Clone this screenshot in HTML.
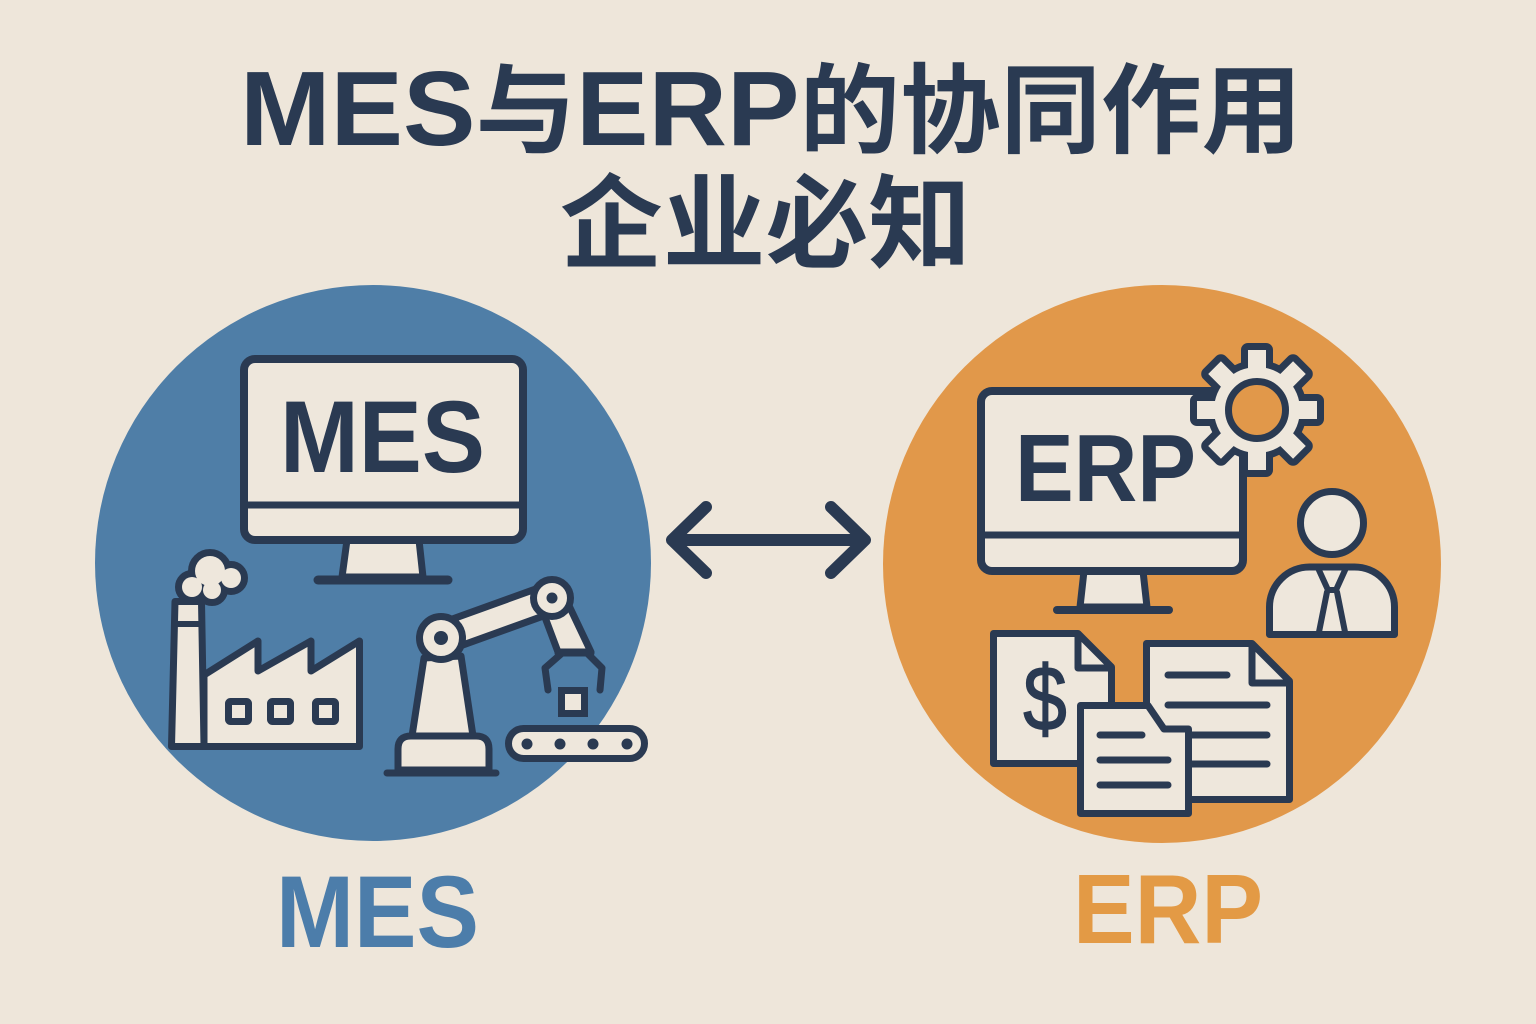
<!DOCTYPE html>
<html>
<head>
<meta charset="utf-8">
<style>
html,body{margin:0;padding:0;background:#EEE6DA;}
svg{display:block;}
</style>
</head>
<body>
<svg width="1536" height="1024" viewBox="0 0 1536 1024" xmlns="http://www.w3.org/2000/svg">
<rect x="0" y="0" width="1536" height="1024" fill="#EEE6DA"/>

<!-- Title -->
<text x="240" y="145" textLength="1062" lengthAdjust="spacingAndGlyphs" fill="#2A3A52" font-family="'Liberation Sans','Noto Sans CJK SC',sans-serif" font-weight="bold" font-size="98"><tspan font-size="106">MES</tspan>与<tspan font-size="106">ERP</tspan>的协同作用</text>
<text x="560" y="260" textLength="411" lengthAdjust="spacingAndGlyphs" fill="#2A3A52" font-family="'Liberation Sans','Noto Sans CJK SC',sans-serif" font-weight="bold" font-size="102">企业必知</text>

<!-- Circles -->
<circle cx="373" cy="563" r="278" fill="#4F7EA7"/>
<circle cx="1162" cy="564" r="279" fill="#E1984A"/>

<g stroke="#2A3A52" stroke-linecap="round" stroke-linejoin="round">

<!-- ===== MES monitor ===== -->
<polygon points="347,540 419,540 423,577 342,577" fill="#EEE7DC" stroke-width="7"/>
<line x1="318" y1="580" x2="448" y2="580" stroke-width="9"/>
<rect x="244" y="359" width="279" height="181" rx="11" fill="#EEE7DC" stroke-width="8"/>
<line x1="244" y1="505" x2="523" y2="505" stroke-width="7"/>
</g>
<text x="280" y="472" textLength="205" lengthAdjust="spacingAndGlyphs" fill="#2A3A52" font-family="'Liberation Sans',sans-serif" font-weight="bold" font-size="102">MES</text>

<g stroke="#2A3A52" stroke-linecap="round" stroke-linejoin="round">
<!-- ===== Factory ===== -->
<g fill="#2A3A52" stroke-width="14">
  <circle cx="210" cy="571" r="15"/>
  <circle cx="231" cy="578" r="10"/>
  <circle cx="192" cy="587" r="10"/>
  <circle cx="212" cy="590" r="9"/>
</g>
<g fill="#EEE7DC" stroke="none">
  <circle cx="210" cy="571" r="15"/>
  <circle cx="231" cy="578" r="10"/>
  <circle cx="192" cy="587" r="10"/>
  <circle cx="212" cy="590" r="9"/>
</g>
<polygon points="175,601.5 201.5,601.5 204,746.5 171.5,746.5" fill="#EEE7DC" stroke-width="7"/>
<line x1="175" y1="624" x2="202" y2="624" stroke-width="6"/>
<polygon points="204,675 258,641 258,671 311,641 311,671 359.5,641 359.5,746.5 204,746.5" fill="#EEE7DC" stroke-width="7"/>
<rect x="228.5" y="701.5" width="20" height="20" rx="2" fill="#EEE7DC" stroke-width="7"/>
<rect x="270.5" y="701.5" width="20" height="20" rx="2" fill="#EEE7DC" stroke-width="7"/>
<rect x="315.5" y="701.5" width="20" height="20" rx="2" fill="#EEE7DC" stroke-width="7"/>

<!-- ===== Robot arm ===== -->
<path d="M398,770 V749 Q398,736 411,736 H476 Q489,736 489,749 V770 Z" fill="#EEE7DC" stroke-width="7"/>
<line x1="387" y1="773" x2="496" y2="773" stroke-width="7"/>
<polygon points="424,658 461,656 473,736 412,736" fill="#EEE7DC" stroke-width="7"/>
<polygon points="436.3,624.8 547.3,584.8 556.7,611.2 445.7,651.2" fill="#EEE7DC" stroke-width="7"/>
<polygon points="540,604 563,593 591,652 558,652" fill="#EEE7DC" stroke-width="7"/>
<polyline points="561,654 545,668 548,690" fill="none" stroke-width="7"/>
<polyline points="588,654 602,668 600,690" fill="none" stroke-width="7"/>
<line x1="558" y1="653" x2="591" y2="653" stroke-width="7"/>
<circle cx="441" cy="638" r="21.5" fill="#EEE7DC" stroke-width="7"/>
<circle cx="441" cy="638" r="7" fill="#2A3A52" stroke="none"/>
<circle cx="552" cy="598" r="18.5" fill="#EEE7DC" stroke-width="7"/>
<circle cx="552" cy="598" r="5.5" fill="#2A3A52" stroke="none"/>
<rect x="561.5" y="690.5" width="23" height="23" fill="#EEE7DC" stroke-width="7" stroke-linejoin="miter"/>
<rect x="508.5" y="728.5" width="136" height="30" rx="15" fill="#EEE7DC" stroke-width="7"/>
<circle cx="527" cy="744" r="5.5" fill="#2A3A52" stroke="none"/>
<circle cx="560" cy="744" r="5.5" fill="#2A3A52" stroke="none"/>
<circle cx="593" cy="744" r="5.5" fill="#2A3A52" stroke="none"/>
<circle cx="627" cy="744" r="5.5" fill="#2A3A52" stroke="none"/>

<!-- ===== Arrow ===== -->
<line x1="673" y1="540" x2="864" y2="540" stroke-width="12"/>
<polyline points="706,507 672,540 706,573" fill="none" stroke-width="12"/>
<polyline points="831,507 865,540 831,573" fill="none" stroke-width="12"/>

<!-- ===== ERP monitor ===== -->
<polygon points="1084,571 1143,571 1147,607 1080,607" fill="#EEE7DC" stroke-width="7"/>
<line x1="1057" y1="610" x2="1169" y2="610" stroke-width="8"/>
<rect x="981" y="391" width="262" height="180" rx="11" fill="#EEE7DC" stroke-width="8"/>
<line x1="981" y1="535" x2="1243" y2="535" stroke-width="7"/>
</g>
<text x="1015" y="501" textLength="181" lengthAdjust="spacingAndGlyphs" fill="#2A3A52" font-family="'Liberation Sans',sans-serif" font-weight="bold" font-size="96">ERP</text>

<g stroke="#2A3A52" stroke-linecap="round" stroke-linejoin="round">
<!-- Gear -->
<g transform="translate(1257,410)">
  <g fill="#2A3A52" stroke-width="14">
    <circle r="43"/>
    <rect x="-9" y="-60" width="18" height="26"/>
    <rect x="-9" y="-60" width="18" height="26" transform="rotate(45)"/>
    <rect x="-9" y="-60" width="18" height="26" transform="rotate(90)"/>
    <rect x="-9" y="-60" width="18" height="26" transform="rotate(135)"/>
    <rect x="-9" y="-60" width="18" height="26" transform="rotate(180)"/>
    <rect x="-9" y="-60" width="18" height="26" transform="rotate(225)"/>
    <rect x="-9" y="-60" width="18" height="26" transform="rotate(270)"/>
    <rect x="-9" y="-60" width="18" height="26" transform="rotate(315)"/>
  </g>
  <g fill="#EEE7DC" stroke="none">
    <circle r="43"/>
    <rect x="-9" y="-60" width="18" height="26"/>
    <rect x="-9" y="-60" width="18" height="26" transform="rotate(45)"/>
    <rect x="-9" y="-60" width="18" height="26" transform="rotate(90)"/>
    <rect x="-9" y="-60" width="18" height="26" transform="rotate(135)"/>
    <rect x="-9" y="-60" width="18" height="26" transform="rotate(180)"/>
    <rect x="-9" y="-60" width="18" height="26" transform="rotate(225)"/>
    <rect x="-9" y="-60" width="18" height="26" transform="rotate(270)"/>
    <rect x="-9" y="-60" width="18" height="26" transform="rotate(315)"/>
  </g>
  <circle r="28.5" fill="#E1984A" stroke-width="7"/>
</g>

<!-- Person -->
<circle cx="1332" cy="523" r="31.5" fill="#EEE7DC" stroke-width="7"/>
<path d="M1269.5,634.5 V607 A40,40 0 0 1 1309.5,567 H1354.5 A40,40 0 0 1 1394.5,607 V634.5 Z" fill="#EEE7DC" stroke-width="7"/>
<polyline points="1318,568 1328,590 1336,590 1346,568" fill="none" stroke-width="6"/>
<line x1="1327" y1="592" x2="1319" y2="632" stroke-width="6"/>
<line x1="1337" y1="592" x2="1345" y2="632" stroke-width="6"/>

<!-- Doc 1 ($) -->
<path d="M993.5,633.5 H1078 L1111.5,667 V763.5 H993.5 Z" fill="#EEE7DC" stroke-width="7"/>
<path d="M1078,635 V668 H1110" fill="none" stroke-width="7"/>
</g>
<text x="0" y="0" transform="translate(1045,730) scale(0.85,1)" text-anchor="middle" fill="#2A3A52" stroke="#2A3A52" stroke-width="1.5" font-family="'Liberation Sans',sans-serif" font-size="92">$</text>

<g stroke="#2A3A52" stroke-linecap="round" stroke-linejoin="round">
<!-- Doc 2 -->
<path d="M1146.5,643.5 H1252 L1289.5,681 V799.5 H1146.5 Z" fill="#EEE7DC" stroke-width="7"/>
<path d="M1252,645 V683 H1288" fill="none" stroke-width="7"/>
<line x1="1168" y1="675" x2="1227" y2="675" stroke-width="7"/>
<line x1="1168" y1="705" x2="1267" y2="705" stroke-width="7"/>
<line x1="1168" y1="735" x2="1267" y2="735" stroke-width="7"/>
<line x1="1168" y1="764" x2="1267" y2="764" stroke-width="7"/>

<!-- Doc 3 -->
<path d="M1080.5,705.5 H1148 L1164,729 H1188.5 V813.5 H1080.5 Z" fill="#EEE7DC" stroke-width="7"/>
<line x1="1100" y1="735" x2="1142" y2="735" stroke-width="7"/>
<line x1="1100" y1="760" x2="1168" y2="760" stroke-width="7"/>
<line x1="1100" y1="785" x2="1168" y2="785" stroke-width="7"/>
</g>

<!-- Bottom labels -->
<text x="276" y="947" textLength="203" lengthAdjust="spacingAndGlyphs" fill="#4C7DAA" font-family="'Liberation Sans',sans-serif" font-weight="bold" font-size="102">MES</text>
<text x="1073" y="943" textLength="190" lengthAdjust="spacingAndGlyphs" fill="#E39A45" font-family="'Liberation Sans',sans-serif" font-weight="bold" font-size="98">ERP</text>
</svg>
</body>
</html>
